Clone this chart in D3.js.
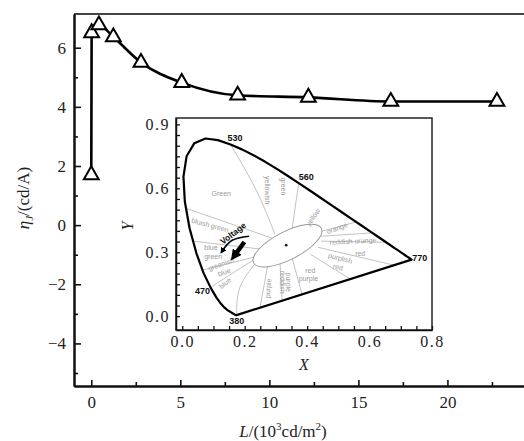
<!DOCTYPE html>
<html>
<head>
<meta charset="utf-8">
<script src="https://cdn.jsdelivr.net/npm/d3@7"></script>
<style>
body { margin: 0; background: #fff; }
svg { display: block; }
.soft { opacity: 0.995; }
</style>
</head>
<body>
<svg id="chart"></svg>
<script>
// main curve: luminance (10^3 cd/m2) vs current efficiency (cd/A)
const L_VALUES = [0, 0.02, 0.43, 1.24, 2.79, 5.08, 8.22, 12.19, 16.82, 22.78];
const ETA_VALUES = [1.7, 6.5, 6.77, 6.36, 5.5, 4.82, 4.39, 4.32, 4.18, 4.18];

const X_TICKS = [0, 5, 10, 15, 20];
const X_MINOR = [2.5, 7.5, 12.5, 17.5, 22.5];
const Y_TICKS = [-4, -2, 0, 2, 4, 6];
const Y_MINOR = [-5, -3, -1, 1, 3, 5];

// inset: CIE 1931 spectral locus (380 nm ... 700 nm)
const LOCUS_X = [0.1741, 0.1740, 0.1738, 0.1736, 0.1733, 0.1730, 0.1726, 0.1721, 0.1714, 0.1703,
    0.1689, 0.1669, 0.1644, 0.1611, 0.1566, 0.1510, 0.1440, 0.1355, 0.1241, 0.1096,
    0.0913, 0.0687, 0.0454, 0.0235, 0.0082, 0.0039, 0.0139, 0.0389, 0.0743, 0.1142,
    0.1547, 0.1929, 0.2296, 0.2658, 0.3016, 0.3373, 0.3731, 0.4087, 0.4441, 0.4788,
    0.5125, 0.5448, 0.5752, 0.6029, 0.6270, 0.6482, 0.6658, 0.6801, 0.6915, 0.7006,
    0.7079, 0.7140, 0.7190, 0.7230, 0.7260, 0.7283, 0.7300, 0.7334, 0.7347];
const LOCUS_Y = [0.0050, 0.0050, 0.0049, 0.0049, 0.0048, 0.0048, 0.0048, 0.0048, 0.0051, 0.0058,
    0.0069, 0.0086, 0.0109, 0.0138, 0.0177, 0.0227, 0.0297, 0.0399, 0.0578, 0.0868,
    0.1327, 0.2007, 0.2950, 0.4127, 0.5384, 0.6548, 0.7502, 0.8120, 0.8338, 0.8262,
    0.8059, 0.7816, 0.7543, 0.7243, 0.6923, 0.6589, 0.6245, 0.5896, 0.5547, 0.5202,
    0.4866, 0.4544, 0.4242, 0.3965, 0.3725, 0.3514, 0.3340, 0.3197, 0.3083, 0.2993,
    0.2920, 0.2859, 0.2809, 0.2770, 0.2740, 0.2717, 0.2700, 0.2666, 0.2653];

const INSET_X_TICKS = d3.range(0, 17).map(i => i * 0.05);
const INSET_Y_TICKS = d3.range(0, 19).map(i => i * 0.05);

const WAVE_LABELS = ["530", "560", "770", "470", "380"];
const WAVE_LX = [0.169, 0.397, 0.737, 0.065, 0.175];
const WAVE_LY = [0.839, 0.652, 0.272, 0.117, -0.023];

// Kelly colour-region boundaries (x, y pairs)
const KELLY_LINES = [
    [[0.288, 0.366], [0.012, 0.506]],
    [[0.297, 0.384], [0.237, 0.591], [0.1547, 0.8059]],
    [[0.352, 0.413], [0.3731, 0.6245]],
    [[0.435, 0.394], [0.557, 0.442]],
    [[0.445, 0.375], [0.608, 0.391]],
    [[0.445, 0.352], [0.653, 0.347]],
    [[0.435, 0.323], [0.679, 0.239]],
    [[0.410, 0.291], [0.538, 0.174]],
    [[0.352, 0.272], [0.384, 0.102]],
    [[0.313, 0.258], [0.320, 0.073]],
    [[0.275, 0.248], [0.249, 0.040]],
    [[0.237, 0.253], [0.185, 0.136], [0.174, 0.010]],
    [[0.227, 0.263], [0.091, 0.136]],
    [[0.230, 0.277], [0.065, 0.216]],
    [[0.256, 0.314], [0.035, 0.352]]
];
const KELLY_NAMES = ["Green", "yellowish", "green", "yellow", "orange", "reddish orange", "red",
    "purplish", "red", "red", "purple", "reddish", "purple", "purple", "blue", "greenish", "blue",
    "blue", "green", "bluish green"];
const KELLY_LX = [0.125, 0.272, 0.323, 0.419, 0.496, 0.547, 0.570, 0.506, 0.499, 0.410, 0.404,
    0.320, 0.339, 0.275, 0.137, 0.124, 0.134, 0.092, 0.099, 0.089];
const KELLY_LY = [0.577, 0.591, 0.609, 0.464, 0.413, 0.352, 0.295, 0.272, 0.230, 0.216, 0.178,
    0.159, 0.159, 0.131, 0.155, 0.244, 0.206, 0.323, 0.281, 0.427];
const KELLY_ROT = [0, 90, 90, -55, -20, -3, 0, 15, 15, 0, 0, 90, 90, -85, -40, -20, -20, 0, 0, 15];

const WHITE_POINT = [0.333, 0.333];
const VOLT_ARC = [[0.214, 0.375], [0.160, 0.356], [0.128, 0.305]];
const VOLT_ARROW = [[0.199, 0.348], [0.170, 0.290]];

const SERIF = '"Liberation Serif", "DejaVu Serif", serif';
const SANS = '"Liberation Sans", Arial, sans-serif';

const width = 524;
const height = 441;

const svg = d3.select("#chart")
    .attr("width", width)
    .attr("height", height);

const x = d3.scaleLinear().domain([-0.97, 24.3]).range([74, 524]);
const y = d3.scaleLinear().domain([-5.44, 7.14]).range([386, 14]);

// top frame line
svg.append("line")
    .attr("x1", x.range()[0]).attr("x2", width)
    .attr("y1", y.range()[1]).attr("y2", y.range()[1])
    .attr("stroke", "#444").attr("stroke-width", 2);

function styleAxis(g, size) {
    g.attr("font-family", null);
    g.select(".domain").attr("stroke", "#111").attr("stroke-width", 2);
    g.selectAll(".tick line").attr("stroke", "#111").attr("stroke-width", 1.6);
    g.selectAll("text")
        .style("font-family", SERIF)
        .style("font-size", size + "px")
        .attr("fill", "#222");
}

svg.append("g")
    .attr("transform", `translate(0,${y.range()[0]})`)
    .call(d3.axisBottom(x).tickValues(X_TICKS).tickSize(-6).tickSizeOuter(0).tickPadding(10))
    .call(g => styleAxis(g, 17));
svg.append("g")
    .attr("transform", `translate(0,${y.range()[0]})`)
    .call(d3.axisBottom(x).tickValues(X_MINOR).tickSize(-4).tickSizeOuter(0).tickFormat(""))
    .call(g => styleAxis(g, 17));

svg.append("g")
    .attr("transform", `translate(${x.range()[0]},0)`)
    .call(d3.axisLeft(y).tickValues(Y_TICKS).tickSize(-7).tickSizeOuter(0).tickPadding(8))
    .call(g => styleAxis(g, 17));
svg.append("g")
    .attr("transform", `translate(${x.range()[0]},0)`)
    .call(d3.axisLeft(y).tickValues(Y_MINOR).tickSize(-4).tickSizeOuter(0).tickFormat(""))
    .call(g => styleAxis(g, 17));

// axis titles
const xt = svg.append("text")
    .style("font-family", SERIF)
    .attr("x", 283).attr("y", 437)
    .attr("text-anchor", "middle")
    .attr("font-size", 17)
    .attr("fill", "#222");
xt.append("tspan").attr("font-style", "italic").text("L");
xt.append("tspan").text("/(10");
xt.append("tspan").attr("font-size", 11).attr("dy", -7).text("3");
xt.append("tspan").attr("dy", 7).text("cd/m");
xt.append("tspan").attr("font-size", 11).attr("dy", -7).text("2");
xt.append("tspan").attr("dy", 7).text(")");

const yt = svg.append("text")
    .style("font-family", SERIF)
    .attr("transform", "translate(29,198) rotate(-90)")
    .attr("text-anchor", "middle")
    .attr("font-size", 17)
    .attr("fill", "#222");
yt.append("tspan").attr("font-style", "italic").text("η");
yt.append("tspan").attr("font-style", "italic").attr("font-size", 11).attr("dy", 4).text("J");
yt.append("tspan").attr("dy", -4).text("/(cd/A)");

// main curve
const pts = L_VALUES.map((v, i) => [v, ETA_VALUES[i]]);
svg.append("path")
    .datum(pts)
    .attr("fill", "none")
    .attr("stroke", "#000")
    .attr("stroke-width", 2.6)
    .attr("d", d3.line().x(d => x(d[0])).y(d => y(d[1])).curve(d3.curveMonotoneX));

svg.selectAll(".pt")
    .data(pts)
    .enter()
    .append("path")
    .attr("class", "pt")
    .attr("transform", d => `translate(${x(d[0])},${y(d[1])})`)
    .attr("d", d3.symbol(d3.symbolTriangle, 95)())
    .attr("fill", "#fff")
    .attr("stroke", "#000")
    .attr("stroke-width", 2);

// ---------- inset ----------
const ix = d3.scaleLinear().domain([-0.02, 0.8]).range([176, 432]);
const iy = d3.scaleLinear().domain([-0.065, 0.93]).range([330, 118]);

const inset = svg.append("g");

inset.append("rect")
    .attr("x", ix.range()[0]).attr("y", iy.range()[1])
    .attr("width", ix.range()[1] - ix.range()[0])
    .attr("height", iy.range()[0] - iy.range()[1])
    .attr("fill", "#fff")
    .attr("stroke", "#222")
    .attr("stroke-width", 1.5);

const fmt = d3.format(".1f");
inset.append("g")
    .attr("transform", `translate(0,${iy.range()[0]})`)
    .call(d3.axisBottom(ix).tickValues(INSET_X_TICKS).tickSize(-4).tickSizeOuter(0).tickPadding(6)
        .tickFormat(v => Math.round(v * 100) % 20 === 0 ? fmt(v) : ""))
    .call(g => {
        styleAxis(g, 16);
        g.select(".domain").attr("stroke-width", 1.5);
        g.selectAll(".tick line").attr("stroke-width", 1.3);
        g.selectAll("text").attr("letter-spacing", 1.5);
    });
inset.append("g")
    .attr("transform", `translate(${ix.range()[0]},0)`)
    .call(d3.axisLeft(iy).tickValues(INSET_Y_TICKS).tickSize(-4).tickSizeOuter(0).tickPadding(6)
        .tickFormat(v => Math.round(v * 100) % 30 === 0 ? fmt(v) : ""))
    .call(g => {
        styleAxis(g, 16);
        g.select(".domain").attr("stroke-width", 1.5);
        g.selectAll(".tick line").attr("stroke-width", 1.3);
        g.selectAll("text").attr("letter-spacing", 1.5);
    });

inset.append("text")
    .style("font-family", SERIF)
    .attr("x", 304).attr("y", 370)
    .attr("text-anchor", "middle")
    .attr("font-size", 16).attr("font-style", "italic")
    .attr("fill", "#222")
    .text("X");
inset.append("text")
    .style("font-family", SERIF)
    .attr("transform", "translate(133,226) rotate(-90)")
    .attr("text-anchor", "middle")
    .attr("font-size", 16).attr("font-style", "italic")
    .attr("fill", "#222")
    .text("Y");

const cline = d3.line().x(d => ix(d[0])).y(d => iy(d[1]));

// Kelly region boundaries
inset.selectAll(".kelly")
    .data(KELLY_LINES)
    .enter()
    .append("path")
    .attr("class", "kelly")
    .attr("fill", "none")
    .attr("stroke", "#bbb")
    .attr("stroke-width", 0.9)
    .attr("d", d => cline.curve(d3.curveNatural)(d));

// white region
inset.append("ellipse")
    .attr("cx", ix(0.337)).attr("cy", iy(0.331))
    .attr("rx", 38).attr("ry", 14)
    .attr("transform", `rotate(-27,${ix(0.337)},${iy(0.331)})`)
    .attr("fill", "#fff")
    .attr("stroke", "#999")
    .attr("stroke-width", 1);
inset.append("circle")
    .attr("cx", ix(WHITE_POINT[0])).attr("cy", iy(WHITE_POINT[1]))
    .attr("r", 1.4).attr("fill", "#222");

// grey region names (group opacity keeps the small text greyscale)
inset.append("g")
    .attr("class", "soft")
    .selectAll(".kname")
    .data(KELLY_NAMES)
    .enter()
    .append("text")
    .attr("class", "kname")
    .style("font-family", SANS)
    .attr("transform", (d, i) => `translate(${ix(KELLY_LX[i])},${iy(KELLY_LY[i])}) rotate(${KELLY_ROT[i]})`)
    .attr("text-anchor", "middle")
    .attr("dy", "0.35em")
    .attr("font-size", 7)
    .attr("fill", "#9a9a9a")
    .text(d => d);

// spectral locus, closed by the purple line
const locus = LOCUS_X.map((v, i) => [v, LOCUS_Y[i]]);
inset.append("path")
    .datum(locus)
    .attr("fill", "none")
    .attr("stroke", "#000")
    .attr("stroke-width", 2.2)
    .attr("stroke-linejoin", "round")
    .attr("d", d => cline.curve(d3.curveLinear)(d) + "Z");

inset.selectAll(".wl")
    .data(WAVE_LABELS)
    .enter()
    .append("text")
    .attr("class", "wl")
    .style("font-family", SANS)
    .attr("x", (d, i) => ix(WAVE_LX[i]))
    .attr("y", (d, i) => iy(WAVE_LY[i]))
    .attr("dy", "0.35em")
    .attr("text-anchor", d => d === "770" ? "start" : "middle")
    .attr("font-size", 9)
    .attr("font-weight", "bold")
    .attr("fill", "#111")
    .text(d => d);

// voltage arrows
const defs = svg.append("defs");
defs.append("marker")
    .attr("id", "head")
    .attr("viewBox", "0 0 10 10")
    .attr("refX", 5).attr("refY", 5)
    .attr("markerWidth", 4).attr("markerHeight", 4)
    .attr("orient", "auto")
    .append("path").attr("d", "M0,0L10,5L0,10Z").attr("fill", "#000");
defs.append("marker")
    .attr("id", "head2")
    .attr("viewBox", "0 0 10 10")
    .attr("refX", 3).attr("refY", 5)
    .attr("markerWidth", 2.4).attr("markerHeight", 2.4)
    .attr("orient", "auto")
    .append("path").attr("d", "M0,0L10,5L0,10Z").attr("fill", "#000");

inset.append("path")
    .datum(VOLT_ARC)
    .attr("fill", "none")
    .attr("stroke", "#000")
    .attr("stroke-width", 1.6)
    .attr("marker-end", "url(#head)")
    .attr("d", d => cline.curve(d3.curveNatural)(d));
inset.append("path")
    .datum(VOLT_ARROW)
    .attr("fill", "none")
    .attr("stroke", "#000")
    .attr("stroke-width", 4.5)
    .attr("marker-end", "url(#head2)")
    .attr("d", d => cline.curve(d3.curveLinear)(d));

inset.append("text")
    .style("font-family", SANS)
    .attr("transform", `translate(${ix(0.163)},${iy(0.389)}) rotate(-38)`)
    .attr("text-anchor", "middle")
    .attr("dy", "0.35em")
    .attr("font-size", 8.5)
    .attr("font-weight", "bold")
    .attr("fill", "#111")
    .text("Voltage");
</script>
</body>
</html>
